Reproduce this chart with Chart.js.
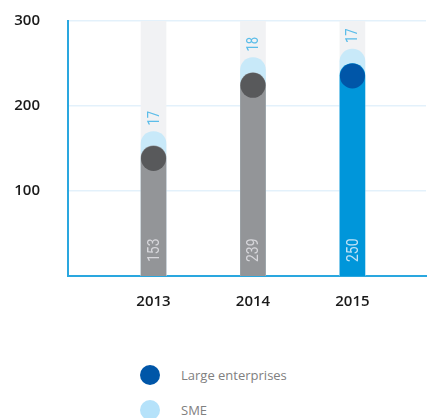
<!DOCTYPE html>
<html>
<head>
<meta charset="utf-8">
<script src="https://cdn.jsdelivr.net/npm/chart.js@4"></script>
<style>
  html, body { margin: 0; padding: 0; background: #ffffff; }
  #wrap { position: relative; width: 427px; height: 418px; overflow: hidden; }
  #c { position: absolute; left: 0; top: 0; }
  .leg { position: absolute; left: 140px; height: 20px; display: flex; align-items: center;
         font-family: "Open Sans", "DejaVu Sans", sans-serif; font-size: 13px; color: #808080; }
  .leg span.dot { display: inline-block; width: 20px; height: 20px; border-radius: 50%; margin-right: 21px; }
</style>
</head>
<body>
<div id="wrap">
  <canvas id="c" width="427" height="320"></canvas>
  <div id="legend"></div>
</div>
<script>
// ---- data ----
const years = [2013, 2014, 2015];
const largeEnterprises = [153, 239, 250];
const sme = [17, 18, 17];
const yTicks = [100, 200, 300];
const seriesNames = ['Large enterprises', 'SME'];
const maxValue = 300;

// ---- colours ----
const bgBarColor = '#f1f2f4';
const smeColor = '#c8e9f9';
const largeColors = ['#939598', '#939598', '#0096da'];
const capColors = ['#58595b', '#58595b', '#0056a8'];
const legendColors = ['#0056a8', '#b5e2fa'];

const smeTotals = largeEnterprises.map((v, i) => v + sme[i]);
const pts = arr => arr.map((v, i) => ({ x: years[i], y: v }));

function drawRotated(ctx, text, x, y, font, color) {
  ctx.save();
  ctx.translate(x, y);
  ctx.rotate(-Math.PI / 2);
  ctx.scale(0.82, 1);
  ctx.font = font;
  ctx.fillStyle = color;
  ctx.textAlign = 'left';
  ctx.textBaseline = 'middle';
  ctx.fillText(text, 0, 0);
  ctx.restore();
}

const overlay = {
  id: 'overlay',
  afterDatasetsDraw(chart) {
    const ctx = chart.ctx;
    const largeMeta = chart.getDatasetMeta(2);
    const smeMeta = chart.getDatasetMeta(1);
    const base = chart.scales.y.getPixelForValue(0);
    largeMeta.data.forEach((bar, i) => {
      const r = bar.width / 2;
      ctx.save();
      ctx.fillStyle = capColors[i];
      ctx.beginPath();
      ctx.arc(bar.x, bar.y + r, r, 0, Math.PI * 2);
      ctx.fill();
      ctx.restore();
      drawRotated(ctx, String(largeEnterprises[i]), bar.x + 1, base - 14,
        '17px Roboto, "DejaVu Sans", sans-serif',
        i === 2 ? 'rgba(200,230,248,0.95)' : 'rgba(218,218,222,0.95)');
      const sb = smeMeta.data[i];
      drawRotated(ctx, String(sme[i]), sb.x + 1, sb.y - 6,
        '16px Roboto, "DejaVu Sans", sans-serif', '#5cbde9');
    });
  }
};

const barCommon = { barThickness: 25, grouped: false, borderSkipped: 'start' };
const tickFont = { family: '"Open Sans", "DejaVu Sans", sans-serif', size: 15, weight: 600 };

new Chart(document.getElementById('c'), {
  type: 'bar',
  data: {
    datasets: [
      Object.assign({ label: 'bg', data: pts(years.map(() => maxValue)), backgroundColor: bgBarColor, order: 3 }, barCommon),
      Object.assign({ label: seriesNames[1], data: pts(smeTotals), backgroundColor: smeColor, order: 2,
        borderRadius: { topLeft: 12.5, topRight: 12.5, bottomLeft: 0, bottomRight: 0 } }, barCommon),
      Object.assign({ label: seriesNames[0], data: pts(largeEnterprises), backgroundColor: largeColors, order: 1,
        borderRadius: { topLeft: 12.5, topRight: 12.5, bottomLeft: 0, bottomRight: 0 } }, barCommon)
    ]
  },
  options: {
    responsive: false,
    animation: false,
    layout: { padding: { top: 21, right: 1, bottom: 8, left: 0 } },
    plugins: { legend: { display: false }, tooltip: { enabled: false } },
    scales: {
      x: {
        type: 'linear',
        offset: false,
        min: 2012.14,
        max: 2015.74,
        afterBuildTicks(scale) { scale.ticks = years.map(v => ({ value: v })); },
        afterFit(scale) {
          scale.height = 36;
          scale.paddingLeft = 0; scale.paddingRight = 0;
          scale.paddingTop = 0; scale.paddingBottom = 0;
        },
        ticks: {
          padding: 17,
          color: '#1a1a1a',
          font: tickFont,
          maxRotation: 0,
          callback: v => String(v)
        },
        grid: { display: false, drawTicks: false },
        border: { color: '#2aa7df', width: 2 }
      },
      y: {
        min: 0,
        max: maxValue,
        afterBuildTicks(scale) { scale.ticks = yTicks.map(v => ({ value: v })); },
        afterFit(scale) {
          scale.width = 68;
          scale.paddingTop = 9; scale.paddingBottom = 9;
        },
        ticks: {
          padding: 28,
          color: '#1a1a1a',
          font: tickFont
        },
        grid: { color: '#e3f1fb', lineWidth: 1.5, drawTicks: false },
        border: { color: '#2aa7df', width: 2 }
      }
    }
  },
  plugins: [overlay]
});

// ---- legend ----
const legend = document.getElementById('legend');
const legendTops = [365, 400];
seriesNames.forEach((name, i) => {
  const d = document.createElement('div');
  d.className = 'leg';
  d.style.top = legendTops[i] + 'px';
  const dot = document.createElement('span');
  dot.className = 'dot';
  dot.style.background = legendColors[i];
  d.appendChild(dot);
  d.appendChild(document.createTextNode(name));
  legend.appendChild(d);
});
</script>
</body>
</html>
